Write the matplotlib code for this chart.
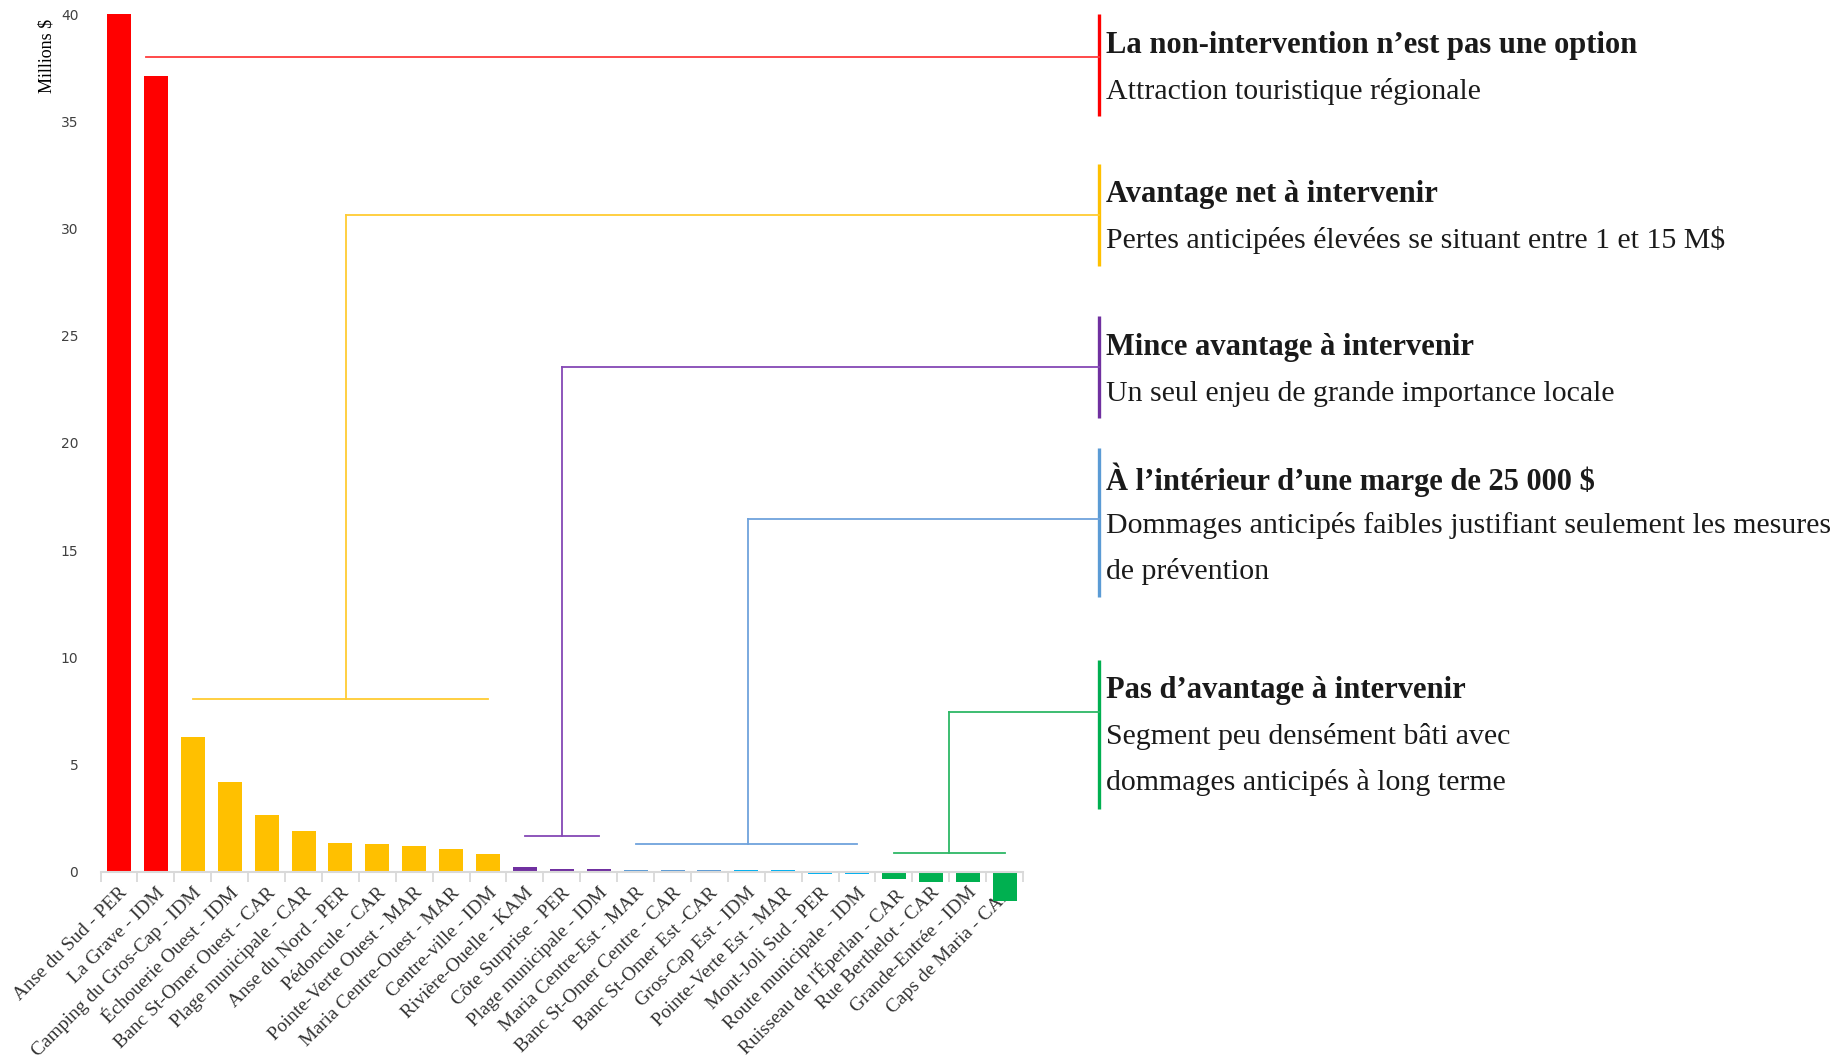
import matplotlib as mpl
mpl.use('Agg')
import matplotlib.pyplot as plt

# données : pertes anticipées par segment (millions $)
sites = ['Anse du Sud - PER', 'La Grave - IDM', 'Camping du Gros-Cap - IDM',
         'Échouerie Ouest - IDM', 'Banc St-Omer Ouest - CAR', 'Plage municipale - CAR',
         'Anse du Nord - PER', 'Pédoncule - CAR', 'Pointe-Verte Ouest - MAR',
         'Maria Centre-Ouest - MAR', 'Centre-ville - IDM', 'Rivière-Ouelle - KAM',
         'Côte Surprise - PER', 'Plage municipale - IDM', 'Maria Centre-Est - MAR',
         'Banc St-Omer Centre - CAR', 'Banc St-Omer Est -CAR', 'Gros-Cap Est - IDM',
         'Pointe-Verte Est - MAR', 'Mont-Joli Sud - PER', 'Route municipale - IDM',
         "Ruisseau de l'Éperlan - CAR", 'Rue Berthelot - CAR', 'Grande-Entrée - IDM',
         'Caps de Maria - CAR']
pertes = [40.0, 37.1, 6.3, 4.2, 2.65, 1.9, 1.33, 1.27, 1.19, 1.05, 0.84, 0.21,
          0.14, 0.14, 0.08, 0.08, 0.08, 0.08, 0.08, -0.1, -0.1, -0.33, -0.47, -0.47, -1.38]
classes = ['rouge'] * 2 + ['jaune'] * 9 + ['violet'] * 3 + ['bleu'] * 3 + ['cyan'] * 4 + ['vert'] * 4

titres = ['La non-intervention n’est pas une option',
          'Avantage net à intervenir',
          'Mince avantage à intervenir',
          'À l’intérieur d’une marge de 25 000 $',
          'Pas d’avantage à intervenir']
details = [['Attraction touristique régionale'],
           ['Pertes anticipées élevées se situant entre 1 et 15 M$'],
           ['Un seul enjeu de grande importance locale'],
           ['Dommages anticipés faibles justifiant seulement les mesures', 'de prévention'],
           ['Segment peu densément bâti avec', 'dommages anticipés à long terme']]
# premier et dernier segment de chaque groupe
groupes = [(0, 1), (2, 10), (11, 13), (14, 20), (21, 24)]

couleurs_barres = {'rouge': '#FF0000', 'jaune': '#FFC000', 'violet': '#7030A0',
                   'bleu': '#5B9BD5', 'cyan': '#00B0F0', 'vert': '#00B050'}
couleurs_traits = ['#FF3B3B', '#FFCC33', '#8548B5', '#6FA3DC', '#2DB866']
couleurs_cadres = ['#FF0000', '#FFC000', '#7030A0', '#5B9BD5', '#00B050']

# mise en page des annotations (coordonnées données)
h_accolade = [None, 8.07, 1.68, 1.29, 0.85]
x_liaison = [0.73, 6.15, 12.0, 17.05, 22.5]
h_liaison = [38.0, 30.65, 23.55, 16.46, 7.46]
cadre_y = [(35.24, 40.0), (28.23, 33.0), (21.14, 25.92), (12.82, 19.77), (2.94, 9.88)]
titre_y = [38.55, 31.58, 24.43, 18.27, 8.44]
pas_ligne = 2.14
x_cadre = 26.56
x_texte = 26.75

fig = plt.figure(figsize=(18.49, 10.63), dpi=100)
ax = fig.add_axes([0.0544, 0.1477, 0.4989, 0.8391])

x = list(range(len(sites)))
ax.bar(x, pertes, width=0.65, color=[couleurs_barres[c] for c in classes], zorder=2)
ax.set_xlim(-0.5, len(sites) - 0.5)
ax.set_ylim(-1.6, 40)

for s in ['top', 'right', 'left']:
    ax.spines[s].set_visible(False)
ax.spines['bottom'].set_position(('data', 0))
ax.spines['bottom'].set_color('#D9D9D9')
ax.spines['bottom'].set_linewidth(1.5)

ax.set_yticks(range(0, 41, 5))
ax.tick_params(axis='y', length=0, pad=16, labelsize=10, labelcolor='#404040')
ax.set_xticks(x)
ax.set_xticklabels(sites, rotation=45, ha='right', rotation_mode='anchor',
                   family='Liberation Serif', fontsize=14, color='#333333')
ax.tick_params(axis='x', which='major', length=0, pad=9)
ax.set_xticks([i - 0.5 for i in range(len(sites) + 1)], minor=True)
ax.tick_params(axis='x', which='minor', length=7, width=1.3, color='#D9D9D9')

fig.text(0.0255, 0.982, 'Millions $', rotation=90, va='top', ha='center',
         family='Liberation Serif', fontsize=13)

for k, (a, b) in enumerate(groupes):
    c = couleurs_traits[k]
    x0 = x_liaison[k]
    if h_accolade[k] is not None:
        ax.plot([a, b], [h_accolade[k]] * 2, color=c, lw=1.3, clip_on=False, zorder=3)
        ax.plot([x0, x0], [h_accolade[k], h_liaison[k]], color=c, lw=1.3, clip_on=False, zorder=3)
    ax.plot([x0, x_cadre], [h_liaison[k]] * 2, color=c, lw=1.3, clip_on=False, zorder=3)
    ax.plot([x_cadre, x_cadre], cadre_y[k], color=couleurs_cadres[k], lw=2.4,
            clip_on=False, solid_capstyle='butt')
    ax.text(x_texte, titre_y[k], titres[k], family='Liberation Serif', weight='bold',
            fontsize=22, va='center', ha='left', color='#1a1a1a', clip_on=False)
    for j, ligne in enumerate(details[k]):
        ax.text(x_texte, titre_y[k] - pas_ligne * (j + 1), ligne, family='Liberation Serif',
                fontsize=21.5, va='center', ha='left', color='#1a1a1a', clip_on=False)

fig.savefig('out.png', dpi=100)
